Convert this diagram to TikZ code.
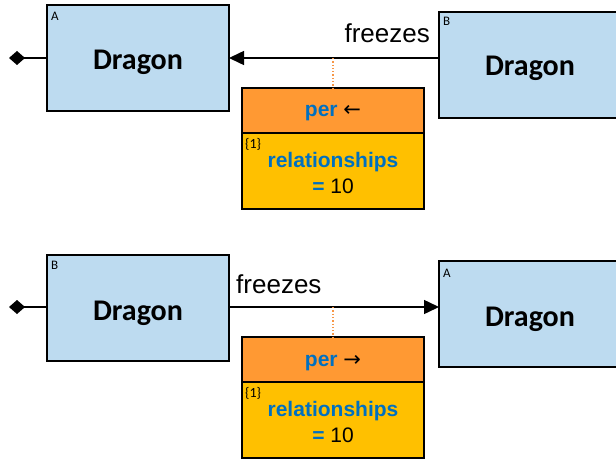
\documentclass[tikz,border=0pt]{standalone}
\usepackage{fontspec}
\setmainfont{Liberation Sans}
\newfontfamily\calib{Carlito}
\newfontfamily\arrowfont{DejaVu Sans}
\usetikzlibrary{arrows.meta}
\definecolor{boxblue}{HTML}{BDDBF0}
\definecolor{hdrorange}{HTML}{FF9933}
\definecolor{bodygold}{HTML}{FFC000}
\definecolor{txtblue}{HTML}{0070C0}
\definecolor{dotorange}{HTML}{F79646}
\begin{document}
\begin{tikzpicture}[x=1pt,y=-1pt,
  classbox/.style={draw=black, line width=1.6pt, fill=boxblue, minimum width=182pt, minimum height=106pt, inner sep=0pt, outer sep=0pt, anchor=north west},
  hdrbox/.style={draw=black, line width=1.6pt, fill=hdrorange, minimum width=182pt, minimum height=45pt, inner sep=0pt, outer sep=0pt, anchor=north west},
  bodybox/.style={draw=black, line width=1.6pt, fill=bodygold, minimum width=182pt, minimum height=76pt, inner sep=0pt, outer sep=0pt, anchor=north west},
  dragon/.style={font=\calib\bfseries\fontsize{30}{36}\selectfont, anchor=base, inner sep=0pt},
  tag/.style={font=\calib\fontsize{13}{15}\selectfont, anchor=base west, inner sep=0pt},
  mult/.style={font=\calib\fontsize{14}{16}\selectfont, anchor=base west, inner sep=0pt},
  rolelbl/.style={font=\fontsize{26}{30}\selectfont, inner sep=0pt},
  attr/.style={font=\fontsize{21}{25}\selectfont, anchor=base, inner sep=0pt},
  conn/.style={draw=black, line width=1.5pt},
  tip/.style={-{Triangle[length=15pt,width=14pt]}},
  dia/.style={{Diamond[length=16pt,width=14pt]}-},
  link/.style={draw=dotorange, line width=1.3pt, dotted}
]
\clip (0,0) rectangle (616,460);
\fill[white] (0,0) rectangle (616,460);

% ---------- top diagram ----------
\node[classbox] (ta) at (47,5) {};
\node[dragon] (tat) at (138,70) {Dragon};
\node[tag] (tal) at (51,21) {A};
\node[classbox] (tb) at (439,12) {};
\node[dragon] (tbt) at (530,76) {Dragon};
\node[tag] (tbl) at (443,26) {B};
\coordinate (td) at (9,58);
\draw[conn,dia] (td) -- (ta.west);
\draw[conn,tip] (ta.east -| tb.west) -- (ta.east);
\node[rolelbl, anchor=base east] (tf) at (430,43) {freezes};
\node[hdrbox] (th) at (242,88) {};
\node[bodybox] (tr) at (th.south west) {};
\coordinate (tm) at (333,58);
\draw[link] (tm) -- (th.north -| tm);
\node[attr] (tp) at (333,117) {\textcolor{txtblue}{\bfseries per} {\arrowfont ←}};
\node[mult] (t1) at (245,148) {\{1\}};
\node[attr] (trl) at (333,167) {\textcolor{txtblue}{\bfseries relationships}};
\node[attr] (teq) at (333,193) {\textcolor{txtblue}{\bfseries =} 10};

% ---------- bottom diagram ----------
\node[classbox] (bb) at (47,255) {};
\node[dragon] (bbt) at (138,320) {Dragon};
\node[tag] (bbl) at (51,269) {B};
\node[classbox] (ba) at (439,261) {};
\node[dragon] (bat) at (530,326) {Dragon};
\node[tag] (bal) at (443,277) {A};
\coordinate (bd) at (9,307);
\draw[conn,dia] (bd) -- (bb.west |- bd);
\draw[conn,tip] (bb.east |- bd) -- (ba.west |- bd);
\node[rolelbl, anchor=base west] (bf) at (236,293) {freezes};
\node[hdrbox] (bh) at (242,337) {};
\node[bodybox] (br) at (bh.south west) {};
\coordinate (bm) at (333,307);
\draw[link] (bm) -- (bh.north -| bm);
\node[attr] (bp) at (333,366) {\textcolor{txtblue}{\bfseries per} {\arrowfont →}};
\node[mult] (b1) at (245,397) {\{1\}};
\node[attr] (brl) at (333,416) {\textcolor{txtblue}{\bfseries relationships}};
\node[attr] (beq) at (333,442) {\textcolor{txtblue}{\bfseries =} 10};
\end{tikzpicture}
\end{document}
